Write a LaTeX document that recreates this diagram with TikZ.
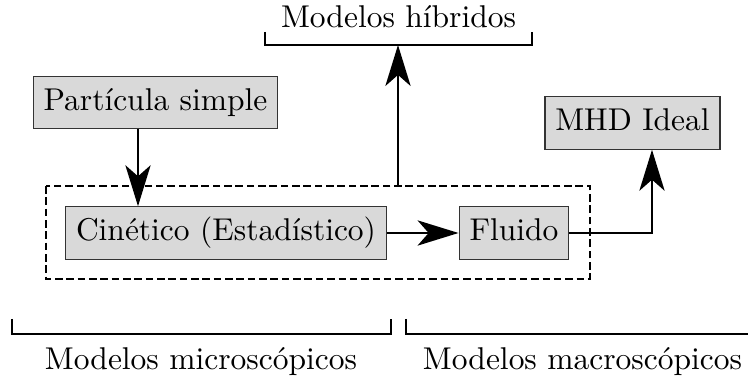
\documentclass[tikz,border=0pt]{standalone}
\usetikzlibrary{arrows.meta}
\definecolor{boxfill}{gray}{0.85}
\begin{document}
\begin{tikzpicture}[x=0.3175pt,y=-0.3175pt,
  box/.style={draw=black!80,line width=0.4pt,fill=boxfill,text height=7.5pt,text depth=2.5pt,inner sep=3.3pt},
  arr/.style={line width=0.8pt,-{Stealth[length=13pt,width=8pt,inset=3.5pt]}},
  conn/.style={line width=0.8pt},
  brk/.style={line width=0.65pt},
  grp/.style={draw,dash pattern=on 2.4pt off 1.2pt,line width=0.6pt}]
\useasboundingbox (0,0) rectangle (748,380);
% boxes
\node[box] (part) at (155.5,102.5) {Partícula simple};
\node[box] (cin) at (226,233) {Cinético (Estadístico)};
\node[box] (flu) at (514,233) {Fluido};
\node[box] (mhd) at (632.5,123) {MHD Ideal};
% dashed group
\draw[grp] (46,186) rectangle (590,279);
\coordinate (gtop) at (398,186);
% labels
\node[anchor=base] (hib) at (398.5,28) {Modelos híbridos};
\node[anchor=base] (mic) at (201,370) {Modelos microscópicos};
\node[anchor=base] (mac) at (582.5,370) {Modelos macroscópicos};
% brackets
\draw[brk] (265,32) -- (265,45) -- (532,45) -- (532,32);
\coordinate (hb) at (398,45);
\draw[brk] (12,319) -- (12,334) -- (391,334) -- (391,319);
\draw[brk] (406,319) -- (406,334) -- (752,334);
% connectors
\coordinate (ax) at (138,0);
\coordinate (mx) at (652,0);
\draw[arr] (part.south -| ax) -- (cin.north -| ax);
\draw[arr] (cin.east) -- (flu.west);
\draw[arr] (flu.east) -| (mhd.south -| mx);
\draw[arr] (gtop) -- (hb);
\end{tikzpicture}
\end{document}
